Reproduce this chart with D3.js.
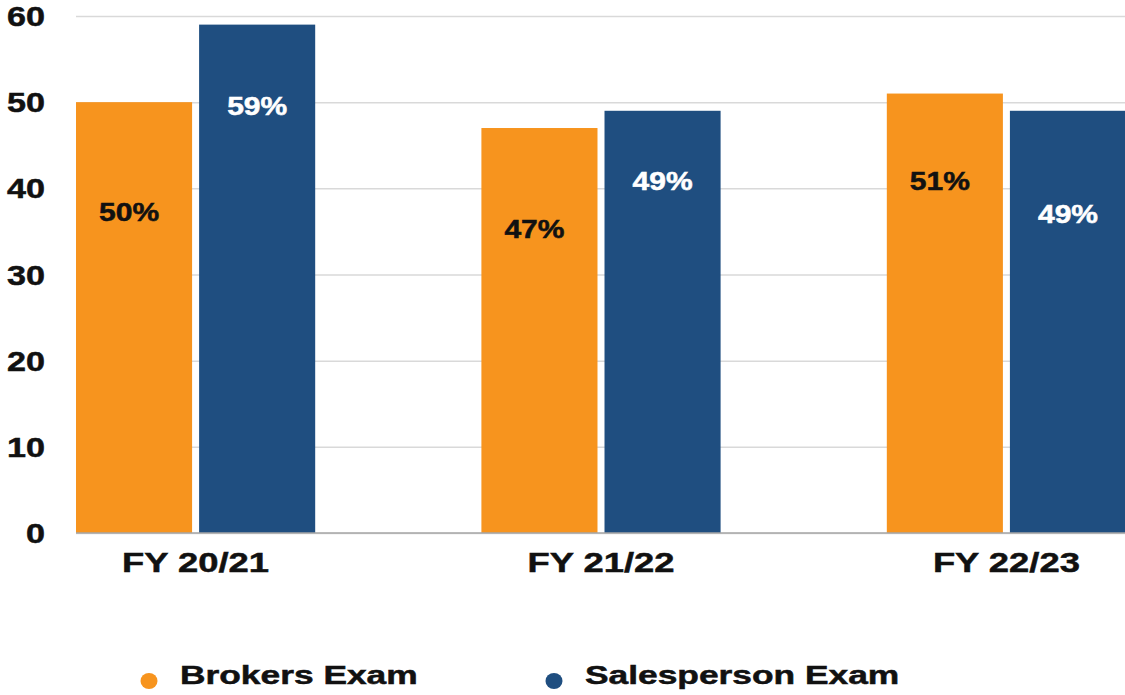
<!DOCTYPE html>
<html>
<head>
<meta charset="utf-8">
<script src="https://cdn.jsdelivr.net/npm/d3@7"></script>
<style>
  html, body { margin: 0; padding: 0; background: #fff; }
  text { font-family: "Liberation Sans", Arial, sans-serif; font-weight: bold; stroke-width: 0.5px; }
</style>
</head>
<body>
<div id="chart"></div>
<script>
// Chart data
const categories = ["FY 20/21", "FY 21/22", "FY 22/23"];
const seriesNames = ["Brokers Exam", "Salesperson Exam"];
const brokers = [50, 47, 51];
const salesperson = [59, 49, 49];
// where each value label sits, in axis units (hand placed in the original)
const brokersLabelAt = [37.2, 35.3, 40.9];
const salespersonLabelAt = [49.5, 40.8, 37.0];
const yTicks = [0, 10, 20, 30, 40, 50, 60];

const colors = ["#F7941E", "#1F4E80"];
const labelColors = ["#111", "#fff"];

// Define the dimensions for the chart
const margin = { top: 16, right: 0, bottom: 162, left: 76 };
const width = 1125 - margin.left - margin.right;
const height = 695 - margin.top - margin.bottom;

const svg = d3
    .select("#chart")
    .append("svg")
    .attr("width", 1125)
    .attr("height", 695);

const g = svg.append("g")
    .attr("transform", `translate(${margin.left},${margin.top})`);

// Scales
const x0 = d3.scaleBand()
    .domain(categories)
    .range([0, 1050])
    .paddingInner(0.41)
    .paddingOuter(0);

const x1 = d3.scaleBand()
    .domain(seriesNames)
    .range([0, x0.bandwidth()])
    .paddingInner(0.057);

const y = d3.scaleLinear()
    .domain([0, 60])
    .range([height, 0]);

// Grid lines
g.append("g")
    .attr("class", "grid")
    .call(d3.axisLeft(y).tickValues(yTicks).tickSize(-width).tickFormat(""))
    .call(s => s.select(".domain").remove())
    .call(s => s.selectAll("line").attr("stroke", "#d9d9d9").attr("stroke-width", 1.5));

// Y tick labels (stretched wide like the original)
g.append("g")
    .selectAll("text")
    .data(yTicks)
    .join("text")
    .attr("transform", d => `translate(-31,${y(d)}) scale(1.22,1)`)
    .attr("text-anchor", "end")
    .attr("dy", "0.36em")
    .attr("font-size", 28)
    .attr("fill", "#111")
    .attr("stroke", "#111")
    .text(d => d);

// Bars
const rows = categories.map((c, i) => ({
    cat: c,
    vals: [
        { s: seriesNames[0], v: brokers[i], at: brokersLabelAt[i], k: 0 },
        { s: seriesNames[1], v: salesperson[i], at: salespersonLabelAt[i], k: 1 }
    ]
}));

const groups = g.selectAll(".group")
    .data(rows)
    .join("g")
    .attr("class", "group")
    .attr("transform", d => `translate(${x0(d.cat)},0)`);

groups.selectAll("rect")
    .data(d => d.vals)
    .join("rect")
    .attr("x", d => x1(d.s))
    .attr("y", d => y(d.v))
    .attr("width", x1.bandwidth())
    .attr("height", d => height - y(d.v))
    .attr("fill", d => colors[d.k]);

groups.selectAll(".val")
    .data(d => d.vals)
    .join("text")
    .attr("class", "val")
    .attr("transform", d => `translate(${x1(d.s) + x1.bandwidth() / 2 - (d.k === 0 ? 5 : 0)},${y(d.at)}) scale(1.2,1)`)
    .attr("text-anchor", "middle")
    .attr("dy", "0.36em")
    .attr("font-size", 25)
    .attr("fill", d => labelColors[d.k])
    .attr("stroke", d => labelColors[d.k])
    .text(d => d.v + "%");

// Baseline
g.append("line")
    .attr("x1", 0)
    .attr("x2", width)
    .attr("y1", height)
    .attr("y2", height)
    .attr("stroke", "#a6a6a6")
    .attr("stroke-width", 1.5);

// X labels
g.append("g")
    .selectAll("text")
    .data(categories)
    .join("text")
    .attr("transform", d => `translate(${x0(d) + x0.bandwidth() / 2},${height + 39}) scale(1.3,1)`)
    .attr("text-anchor", "middle")
    .attr("font-size", 28)
    .attr("fill", "#111")
    .attr("stroke", "#111")
    .text(d => d);

// Legend
const legend = svg.append("g")
    .attr("transform", "translate(149,681)");

const items = legend.selectAll("g")
    .data(seriesNames)
    .join("g")
    .attr("transform", (d, i) => `translate(${i * 405},0)`);

items.append("ellipse")
    .attr("rx", 8.5)
    .attr("ry", 8)
    .attr("fill", (d, i) => colors[i]);

items.append("text")
    .attr("transform", "translate(31,3) scale(1.36,1)")
    .attr("font-size", 26)
    .attr("fill", "#111")
    .attr("stroke", "#111")
    .text(d => d);
</script>
</body>
</html>
